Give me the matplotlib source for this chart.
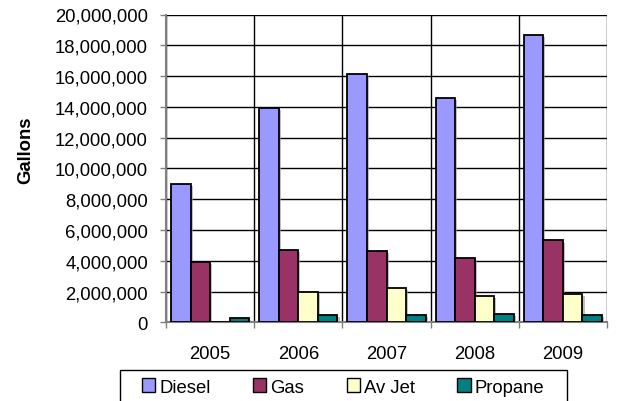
import matplotlib
matplotlib.use("Agg")
import matplotlib.pyplot as plt
import matplotlib.ticker as mticker
import matplotlib.patheffects as pe
from matplotlib.patches import Rectangle
import numpy as np

years = ["2005", "2006", "2007", "2008", "2009"]
series_names = ["Diesel", "Gas", "Av Jet", "Propane"]
diesel = [9.0e6, 13.9e6, 16.15e6, 14.55e6, 18.7e6]
gas = [3.92e6, 4.68e6, 4.65e6, 4.2e6, 5.32e6]
av_jet = [0, 2.0e6, 2.25e6, 1.71e6, 1.82e6]
propane = [0.31e6, 0.47e6, 0.47e6, 0.57e6, 0.5e6]
colors = ["#9999FF", "#993366", "#FFFFCC", "#008080"]

plt.rcParams['font.family'] = ['Liberation Sans', 'DejaVu Sans']
FS = 13.3

fig = plt.figure(figsize=(6.26, 4.02), dpi=100)
ax = fig.add_axes([166/626, 1-323.3/402, (607-166)/626, (323.3-15.5)/402])

x = np.arange(len(years))
w = 0.222
all_series = [diesel, gas, av_jet, propane]
for i, (vals, c) in enumerate(zip(all_series, colors)):
    bars = ax.bar(x + (i - 1.5) * w, vals, width=w, color=c, edgecolor='black',
                  linewidth=1.3, zorder=3)
    for b in bars:
        if b.get_height() > 0:
            b.set_path_effects([pe.SimplePatchShadow(offset=(1.5, -1.5), shadow_rgbFace='#999999', alpha=0.6),
                                pe.Normal()])

ax.set_xlim(-0.5, 4.5)
ax.set_ylim(0, 20e6)
ax.yaxis.set_major_locator(mticker.MultipleLocator(2e6))
ax.yaxis.set_major_formatter(mticker.FuncFormatter(lambda v, p: f"{int(v):,}"))
ax.set_xticks(x)
ax.set_xticklabels(years)
ax.set_xticks(np.arange(-0.5, 5.0, 1.0), minor=True)

ax.grid(True, axis='y', which='major', color='black', linewidth=1.0, zorder=1)
ax.grid(True, axis='x', which='minor', color='black', linewidth=1.0, zorder=1)
ax.set_axisbelow(True)

for s in ['top', 'right']:
    ax.spines[s].set_visible(False)
for s in ['left', 'bottom']:
    ax.spines[s].set_color('#808080')
    ax.spines[s].set_linewidth(1.5)

ax.tick_params(axis='y', which='major', length=4, width=1, color='#808080', pad=9, labelsize=FS)
ax.tick_params(axis='x', which='major', length=0, pad=16, labelsize=FS)
ax.tick_params(axis='x', which='minor', length=4, width=1, color='#808080')

fig.text(26/626, 1-150/402, "Gallons", rotation=90, ha='center', va='center',
         fontsize=FS, fontweight='bold')

# legend frame (extends past the bottom edge, as in the reference)
frame = Rectangle((120/626, -0.05), (566.7-120)/626, 0.05 + 1-371/402,
                  transform=fig.transFigure, facecolor='white', edgecolor='black',
                  linewidth=1.0, zorder=0)
fig.patches.append(frame)

handles = [Rectangle((0, 0), 1, 1, facecolor=c, edgecolor='black', linewidth=1.0) for c in colors]
leg = fig.legend(handles, series_names, loc='center left', ncol=4,
                 bbox_to_anchor=(141.7/626, 1-388/402),
                 bbox_transform=fig.transFigure, frameon=False, fontsize=FS,
                 handlelength=0.72, handleheight=0.72, handletextpad=0.22,
                 columnspacing=2.3, borderpad=0, borderaxespad=0)

fig.savefig("out.png", dpi=100)
